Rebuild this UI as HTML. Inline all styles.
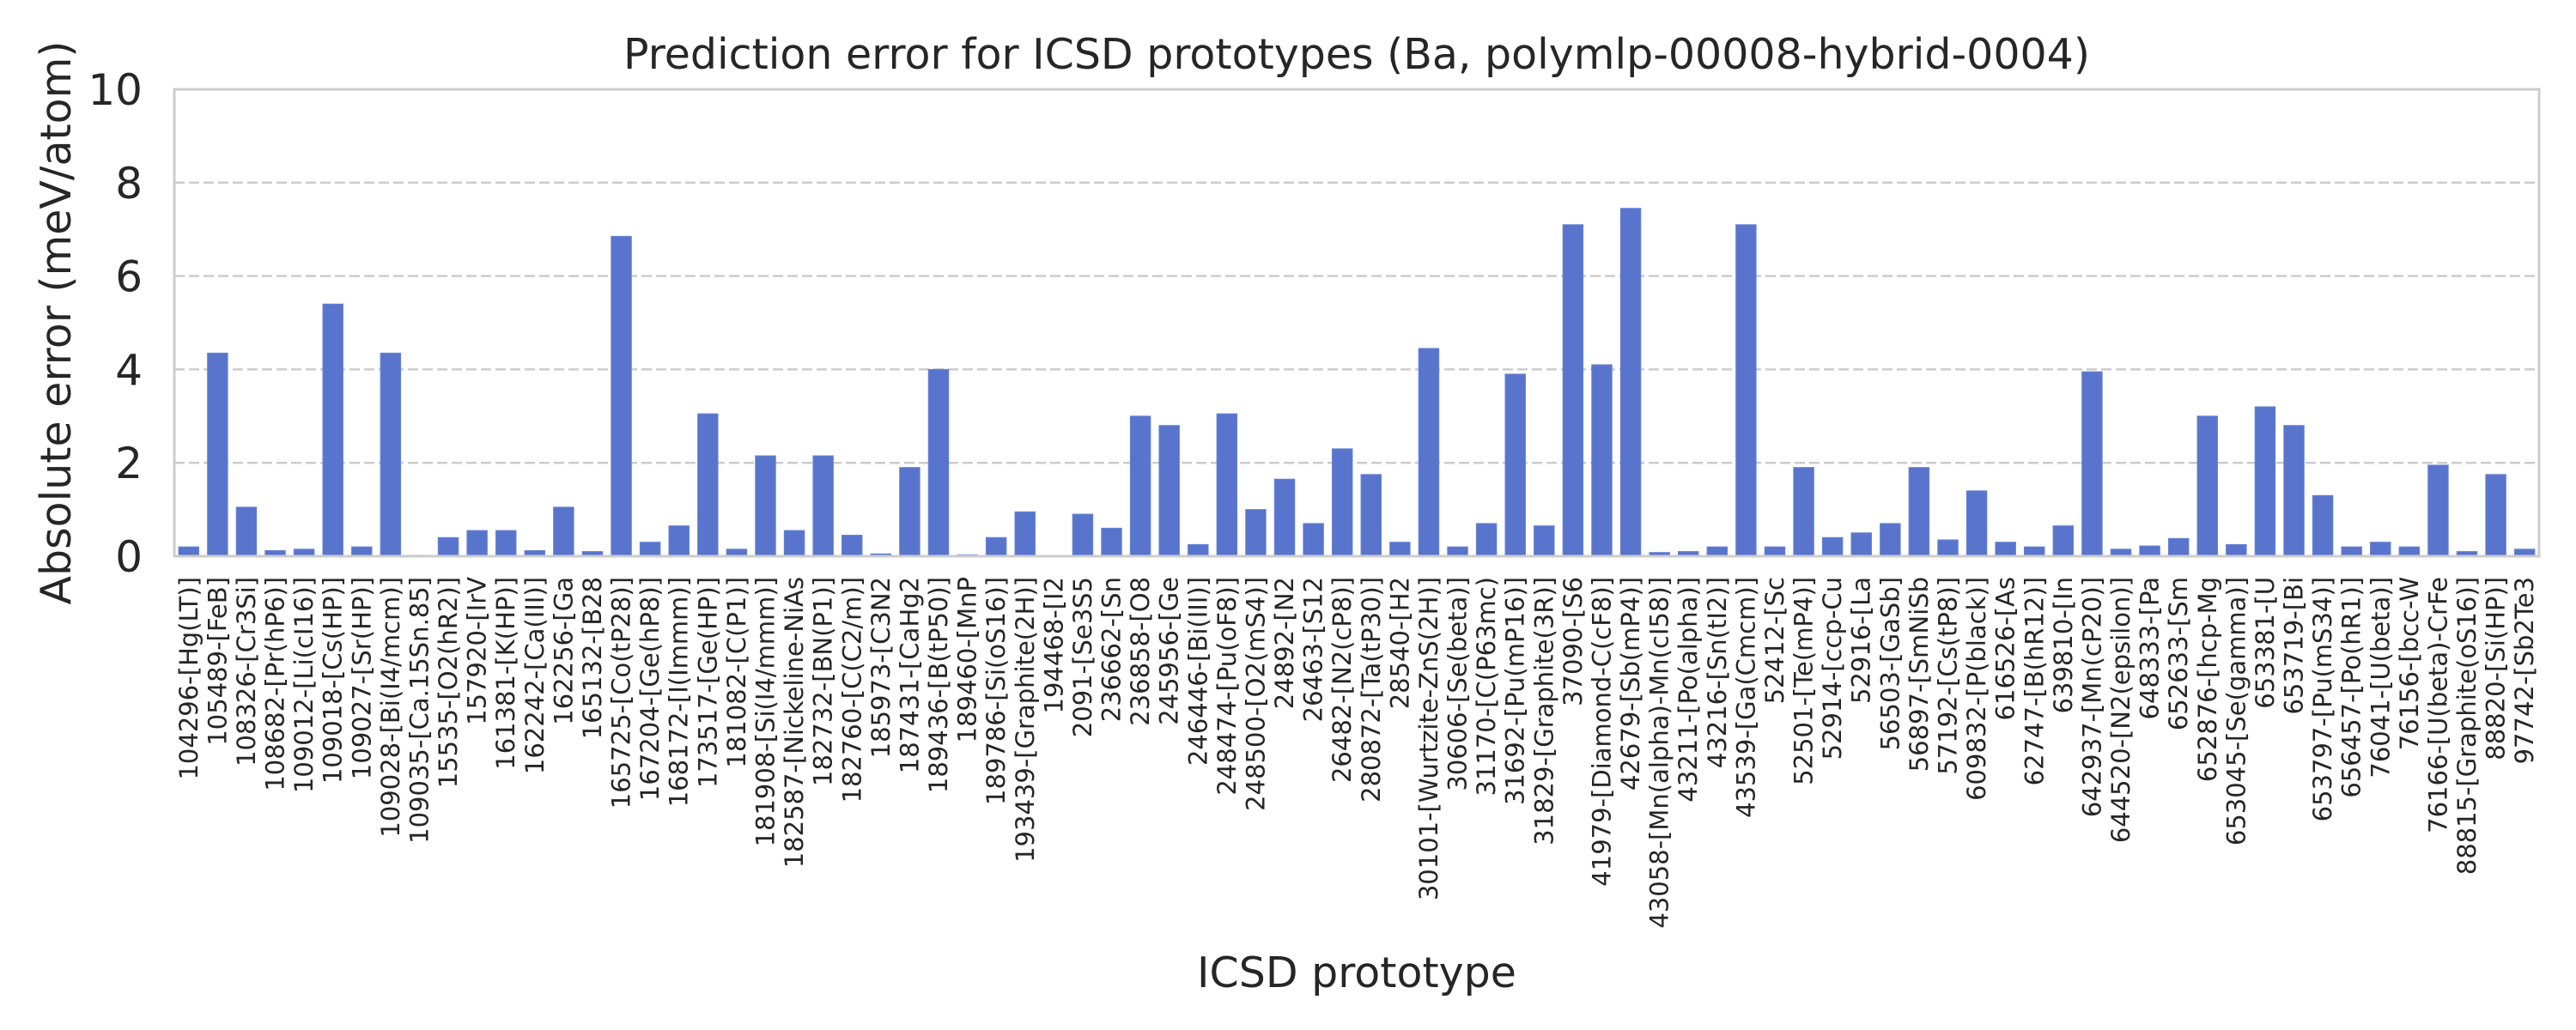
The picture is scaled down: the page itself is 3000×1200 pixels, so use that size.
<!DOCTYPE html>
<html><head><meta charset="utf-8"><style>
html,body{margin:0;padding:0;background:#fff;}
svg{display:block;font-family:"DejaVu Sans","Liberation Sans",sans-serif;}
</style></head><body>
<svg id="chart" width="3000" height="1200" viewBox="0 0 3000 1200">
<rect x="0" y="0" width="3000" height="1200" fill="#fff"/>
<g id="grid"></g>
<g id="bars"></g>
<rect x="203" y="104" width="2754" height="544" fill="none" stroke="#cccccc" stroke-width="3"/>
<g id="yticks"></g>
<g id="xticks"></g>
<text x="1580" y="80" text-anchor="middle" font-size="49" fill="#262626">Prediction error for ICSD prototypes (Ba, polymlp-00008-hybrid-0004)</text>
<text x="1580" y="1150" text-anchor="middle" font-size="49" fill="#262626">ICSD prototype</text>
<text transform="translate(82,376) rotate(-90)" text-anchor="middle" font-size="49" fill="#262626">Absolute error (meV/atom)</text>
</svg>
<script>
const categories = ["104296-[Hg(LT)]","105489-[FeB]","108326-[Cr3Si]","108682-[Pr(hP6)]","109012-[Li(cI16)]","109018-[Cs(HP)]","109027-[Sr(HP)]","109028-[Bi(I4/mcm)]","109035-[Ca.15Sn.85]","15535-[O2(hR2)]","157920-[IrV","161381-[K(HP)]","162242-[Ca(III)]","162256-[Ga","165132-[B28","165725-[Co(tP28)]","167204-[Ge(hP8)]","168172-[I(Immm)]","173517-[Ge(HP)]","181082-[C(P1)]","181908-[Si(I4/mmm)]","182587-[Nickeline-NiAs","182732-[BN(P1)]","182760-[C(C2/m)]","185973-[C3N2","187431-[CaHg2","189436-[B(tP50)]","189460-[MnP","189786-[Si(oS16)]","193439-[Graphite(2H)]","194468-[I2","2091-[Se3S5","236662-[Sn","236858-[O8","245956-[Ge","246446-[Bi(III)]","248474-[Pu(oF8)]","248500-[O2(mS4)]","24892-[N2","26463-[S12","26482-[N2(cP8)]","280872-[Ta(tP30)]","28540-[H2","30101-[Wurtzite-ZnS(2H)]","30606-[Se(beta)]","31170-[C(P63mc)","31692-[Pu(mP16)]","31829-[Graphite(3R)]","37090-[S6","41979-[Diamond-C(cF8)]","42679-[Sb(mP4)]","43058-[Mn(alpha)-Mn(cI58)]","43211-[Po(alpha)]","43216-[Sn(tI2)]","43539-[Ga(Cmcm)]","52412-[Sc","52501-[Te(mP4)]","52914-[ccp-Cu","52916-[La","56503-[GaSb]","56897-[SmNiSb","57192-[Cs(tP8)]","609832-[P(black)]","616526-[As","62747-[B(hR12)]","639810-[In","642937-[Mn(cP20)]","644520-[N2(epsilon)]","648333-[Pa","652633-[Sm","652876-[hcp-Mg","653045-[Se(gamma)]","653381-[U","653719-[Bi","653797-[Pu(mS34)]","656457-[Po(hR1)]","76041-[U(beta)]","76156-[bcc-W","76166-[U(beta)-CrFe","88815-[Graphite(oS16)]","88820-[Si(HP)]","97742-[Sb2Te3"];
const errors = [0.2,4.35,1.05,0.12,0.15,5.4,0.2,4.35,0.02,0.4,0.55,0.55,0.12,1.05,0.1,6.85,0.3,0.65,3.05,0.15,2.15,0.55,2.15,0.45,0.05,1.9,4.0,0.03,0.4,0.95,0.01,0.9,0.6,3.0,2.8,0.25,3.05,1.0,1.65,0.7,2.3,1.75,0.3,4.45,0.2,0.7,3.9,0.65,7.1,4.1,7.45,0.08,0.1,0.2,7.1,0.2,1.9,0.4,0.5,0.7,1.9,0.35,1.4,0.3,0.2,0.65,3.95,0.15,0.22,0.38,3.0,0.25,3.2,2.8,1.3,0.2,0.3,0.2,1.95,0.1,1.75,0.15];
const yTicks = [0,2,4,6,8,10];

const NS = "http://www.w3.org/2000/svg";
const L = 203, R = 2957, T = 104, B = 648, YMAX = 10;
const band = (R - L) / categories.length;
function xScale(i){ return L + band * (i + 0.5); }
function yScale(v){ return B - (v / YMAX) * (B - T); }

const grid = document.getElementById('grid');
const yt = document.getElementById('yticks');
yTicks.forEach(t => {
  if (t > 0 && t < YMAX) {
    const ln = document.createElementNS(NS, 'line');
    ln.setAttribute('x1', L); ln.setAttribute('x2', R);
    ln.setAttribute('y1', yScale(t)); ln.setAttribute('y2', yScale(t));
    ln.setAttribute('stroke', '#cccccc'); ln.setAttribute('stroke-width', '2.5');
    ln.setAttribute('stroke-dasharray', '12 5');
    
    
    grid.appendChild(ln);
  }
  const tx = document.createElementNS(NS, 'text');
  tx.setAttribute('x', 166); tx.setAttribute('y', yScale(t) + 18);
  tx.setAttribute('text-anchor', 'end'); tx.setAttribute('font-size', '50');
  tx.setAttribute('fill', '#262626');
  tx.textContent = t;
  
  
  yt.appendChild(tx);
});

const bars = document.getElementById('bars');
const xt = document.getElementById('xticks');
categories.forEach((c, i) => {
  const bw = band * 0.7;
  const v = errors[i];
  const r = document.createElementNS(NS, 'rect');
  r.setAttribute('x', xScale(i) - bw / 2);
  r.setAttribute('y', yScale(v));
  r.setAttribute('width', bw);
  r.setAttribute('height', B - yScale(v));
  r.setAttribute('fill', '#5874cc');
  r.setAttribute('stroke', '#6a84d4');
  r.setAttribute('stroke-width', '1');
  
  
  bars.appendChild(r);
  const tx = document.createElementNS(NS, 'text');
  const cx = xScale(i) + 10;
  tx.setAttribute('transform', 'translate(' + cx + ',672) rotate(-90)');
  tx.setAttribute('text-anchor', 'end');
  tx.setAttribute('font-size', '29');
  tx.setAttribute('fill', '#262626');
  tx.textContent = c;
  
  
  xt.appendChild(tx);
});
</script>
</body></html>
